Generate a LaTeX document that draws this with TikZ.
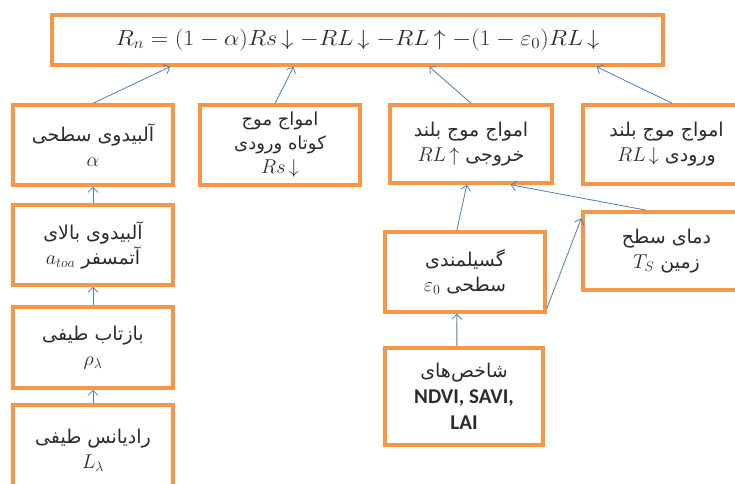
\RequirePackage{fix-cm}
\documentclass[tikz,border=0pt]{standalone}
\usepackage{amsmath}
\usepackage{graphicx}
\usepackage{fontspec}
\TeXXeTstate=1
\newfontfamily\arabicfont[Script=Arabic]{DejaVu Sans}
\newfontfamily\latinbold{Carlito}
\usetikzlibrary{arrows.meta,calc}
\definecolor{boxorange}{HTML}{F79646}
\definecolor{arrowblue}{HTML}{4A7EBB}
\definecolor{txt}{HTML}{2B2B2B}
\newcommand{\fa}[1]{{\arabicfont\beginR #1\endR}}
\newcommand{\mth}[1]{\mbox{\fontsize{20}{22}\selectfont$#1$}}
\tikzset{
  abox/.style={draw=boxorange, line width=3.5pt, fill=white, align=center,
    inner sep=0pt, text=txt, font=\fontsize{19}{25}\selectfont},
  conn/.style={draw=arrowblue, line width=0.8pt,
    -{Straight Barb[length=5pt,width=10pt,line width=0.8pt]}}
}
\begin{document}
\begin{tikzpicture}[x=1pt,y=-1pt]
\useasboundingbox (0,0) rectangle (735,483);
\fill[white] (0,0) rectangle (735,483);
\clip (0,0) rectangle (735,483);

% top formula box
\node[abox, minimum width=611pt, minimum height=50pt, font=\fontsize{22}{24}\selectfont] (top) at (357.5,40)
  {\scalebox{1.1}[1]{$R_n = (1-\alpha)Rs\,{\downarrow}\;{-}RL\,{\downarrow}\;{-}RL\,{\uparrow}\;{-}(1-\varepsilon_0)RL\,{\downarrow}$}};

% second row
\node[abox, minimum width=160pt, minimum height=80pt] (A) at (93,145)
  {\fa{آلبیدوی سطحی}\\ \mth{\alpha}};
\node[abox, minimum width=160pt, minimum height=80pt, font=\fontsize{18}{24}\selectfont] (B) at (280,145)
  {\fa{امواج موج}\\ \fa{کوتاه ورودی}\\ \mth{Rs\,{\downarrow}}};
\node[abox, minimum width=162pt, minimum height=78pt] (C) at (471,144)
  {\fa{امواج موج بلند}\\ \fa{خروجی \mth{RL\,{\uparrow}}}};
\node[abox, minimum width=167pt, minimum height=79pt] (D) at (666.5,144.5)
  {\fa{امواج موج بلند}\\ \fa{ورودی \mth{RL\,{\downarrow}}}};

% left column
\node[abox, minimum width=160pt, minimum height=80pt] (E) at (93,245)
  {\fa{آلبیدوی بالای}\\ \fa{آتمسفر \mth{a_{toa}}}};
\node[abox, minimum width=160pt, minimum height=81pt] (F) at (93,347.5)
  {\fa{بازتاب طیفی}\\ \mth{\rho_{\lambda}}};
\node[abox, minimum width=160pt, minimum height=90pt] (G) at (93,450)
  {\fa{رادیانس طیفی}\\ \mth{L_{\lambda}}};

% right part
\node[abox, minimum width=160pt, minimum height=80pt] (H) at (465,272)
  {\fa{گسیلمندی}\\ \fa{سطحی \mth{\varepsilon_0}}};
\node[abox, minimum width=167pt, minimum height=78pt] (I) at (666.5,251)
  {\fa{دمای سطح}\\ \fa{زمین \mth{T_S}}};
\node[abox, minimum width=158pt, minimum height=97pt, font=\fontsize{19}{26}\selectfont] (J) at (464,396.5)
  {\fa{شاخص‌های}\\ {\latinbold\bfseries\fontsize{21}{26}\selectfont NDVI, SAVI,}\\ {\latinbold\bfseries\fontsize{21}{26}\selectfont LAI}};

% connectors to the formula
\draw[conn] (A.north) -- ($(top.south west)!0.195!(top.south east)$);
\draw[conn] ($(B.north west)!0.47!(B.north east)$) -- ($(top.south west)!0.396!(top.south east)$);
\draw[conn] (C.north) -- ($(top.south west)!0.617!(top.south east)$);
\draw[conn] ($(D.north west)!0.533!(D.north east)$) -- ($(top.south west)!0.889!(top.south east)$);

% left chain
\draw[conn] (E.north) -- (A.south);
\draw[conn] (F.north) -- (E.south);
\draw[conn] (G.north) -- (F.south);

% right chain
\draw[conn] ($(H.north west)!0.45!(H.north east)$) -- ($(C.south west)!0.475!(C.south east)$);
\draw[conn] ($(I.north west)!0.383!(I.north east)$) -- ($(C.south west)!0.74!(C.south east)$);
\draw[conn] ($(H.north east)!0.94!(H.south east)$) -- ($(I.north west)!0.1!(I.south west)$);
\draw[conn] ($(J.north west)!0.456!(J.north east)$) -- ($(H.south west)!0.45!(H.south east)$);
\end{tikzpicture}
\end{document}
